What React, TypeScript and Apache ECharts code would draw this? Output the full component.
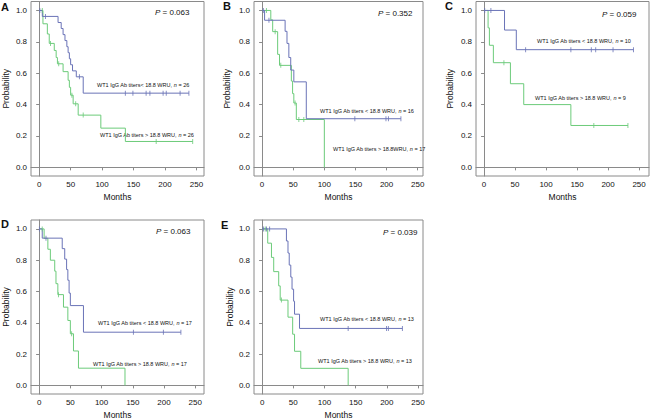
import React, { useEffect, useRef } from "react";
import * as echarts from "echarts";

const xTicks = [0, 50, 100, 150, 200, 250];
const yTicks = [0, 0.2, 0.4, 0.6, 0.8, 1.0];
const panelLetters = ["A", "B", "C", "D", "E"];
const pValues = ["0.063", "0.352", "0.059", "0.063", "0.039"];
const nLow = [26, 16, 10, 17, 13];
const nHigh = [26, 17, 9, 17, 13];

// Panel A
const A_low_steps = [[0, 1], [5, 0.962], [30, 0.923], [35, 0.885], [38, 0.846], [41, 0.808], [44, 0.769], [46, 0.731], [48, 0.692], [50, 0.654], [53, 0.615], [59, 0.577], [70, 0.473]];
const A_low_end = 238;
const A_low_censor = [1, 10, 64, 137, 149, 170, 176, 197, 202, 224, 238];
const A_high_steps = [[0, 1], [6, 0.915], [13, 0.85], [16, 0.79], [24, 0.745], [27, 0.7], [29, 0.66], [38, 0.61], [46, 0.555], [48, 0.51], [50, 0.46], [54, 0.405], [62, 0.333], [98, 0.25], [137, 0.165]];
const A_high_end = 244;
const A_high_censor = [5, 18, 31, 52, 58, 70, 186, 244];

// Panel B
const B_low_steps = [[0, 1], [4, 0.9375], [37, 0.867], [40, 0.79], [43, 0.7], [46, 0.62], [51, 0.545], [71, 0.31]];
const B_low_end = 223;
const B_low_censor = [2, 11, 149, 199, 203, 223];
const B_high_steps = [[0, 1], [14, 0.94], [17, 0.865], [25, 0.72], [28, 0.65], [47, 0.55], [49, 0.47], [51, 0.41], [55, 0.305], [100, 0]];
const B_high_end = 100;
const B_high_censor = [7, 21, 30, 53, 59, 67];

// Panel C
const C_low_steps = [[0, 1], [33, 0.875], [52, 0.75]];
const C_low_end = 241;
const C_low_censor = [1, 11, 67, 140, 173, 180, 208, 241];
const C_high_steps = [[0, 1], [6.5, 0.889], [8.6, 0.778], [15, 0.667], [42.5, 0.533], [64, 0.4], [140, 0.267]];
const C_high_end = 232;
const C_high_censor = [32, 177, 232];

// Panel D
const D_low_steps = [[0, 1], [5, 0.941], [37, 0.874], [41, 0.807], [44, 0.74], [46, 0.672], [48, 0.59], [50, 0.51], [71, 0.34]];
const D_low_end = 227;
const D_low_censor = [0.5, 11, 151, 199, 227];
const D_high_steps = [[0, 1], [8, 0.94], [14, 0.87], [18, 0.8], [25, 0.73], [27, 0.65], [30, 0.58], [39, 0.5], [46, 0.415], [50, 0.33], [55, 0.22], [63, 0.11], [137.5, 0]];
const D_high_end = 137.5;
const D_high_censor = [5, 31, 52];

// Panel E
const E_low_steps = [[0, 1], [39, 0.923], [41.5, 0.846], [43.5, 0.769], [46, 0.692], [48, 0.615], [50.5, 0.538], [52, 0.455], [60, 0.364]];
const E_low_end = 225;
const E_low_censor = [2, 7, 12, 138, 199.5, 202.5, 225];
const E_high_steps = [[0, 1], [9, 0.909], [15, 0.818], [18.6, 0.727], [26.6, 0.636], [29, 0.545], [41.5, 0.436], [49, 0.327], [52, 0.218], [62, 0.109], [138, 0]];
const E_high_end = 138;
const E_high_censor = [5, 31];

const lowGroups = [
  { steps: A_low_steps, end: A_low_end, censor: A_low_censor },
  { steps: B_low_steps, end: B_low_end, censor: B_low_censor },
  { steps: C_low_steps, end: C_low_end, censor: C_low_censor },
  { steps: D_low_steps, end: D_low_end, censor: D_low_censor },
  { steps: E_low_steps, end: E_low_end, censor: E_low_censor },
];
const highGroups = [
  { steps: A_high_steps, end: A_high_end, censor: A_high_censor },
  { steps: B_high_steps, end: B_high_end, censor: B_high_censor },
  { steps: C_high_steps, end: C_high_end, censor: C_high_censor },
  { steps: D_high_steps, end: D_high_end, censor: D_high_censor },
  { steps: E_high_steps, end: E_high_end, censor: E_high_censor },
];

const lowLabels = [
  "WT1 IgG Ab titers< 18.8 WRU, ",
  "WT1 IgG Ab titers < 18.8 WRU, ",
  "WT1 IgG Ab titers < 18.8 WRU, ",
  "WT1 IgG Ab titers < 18.8 WRU, ",
  "WT1 IgG Ab titers < 18.8 WRU, ",
];
const highLabels = [
  "WT1 IgG Ab titers > 18.8 WRU, ",
  "WT1 IgG Ab titers > 18.8WRU, ",
  "WT1 IgG Ab titers > 18.8 WRU, ",
  "WT1 IgG Ab titers > 18.8 WRU, ",
  "WT1 IgG Ab titers > 18.8 WRU, ",
];

// layout (pixels)
const layout = [
  { left: 30, top: 1.5, width: 174, height: 174.5, xMax: 262, nameGapY: 21, letter: [1, 7], p: [155, 12.5], low: [97, 85], high: [100, 135] },
  { left: 254, top: 1.5, width: 169, height: 174.5, xMax: 258.5, nameGapY: 23, letter: [223, 6], p: [378, 13], low: [320, 111], high: [333, 149] },
  { left: 476, top: 1.5, width: 173, height: 174.5, xMax: 266, nameGapY: 22, letter: [445, 6], p: [602, 14], low: [537, 41], high: [535, 98] },
  { left: 30, top: 220, width: 174, height: 177, xMax: 264, nameGapY: 21, letter: [1, 224], p: [156, 231], low: [98, 323], high: [93, 364] },
  { left: 254, top: 220, width: 169, height: 177, xMax: 258, nameGapY: 20, letter: [221, 225], p: [383, 232], low: [320, 319], high: [318, 361] },
];

const BLUE = "#6a73b7";
const GREEN = "#6ccb7a";
const FRAME = "#8a8a8a";
const TEXT = "#111111";
const FONT = "'Liberation Sans', Arial, sans-serif";

function survAt(steps: number[][], t: number) {
  let s = 1;
  for (const [st, sv] of steps) {
    if (st <= t) s = sv;
  }
  return s;
}

function lineData(g: { steps: number[][]; end: number }) {
  const d = g.steps.map((p) => [p[0], p[1]]);
  const last = g.steps[g.steps.length - 1];
  if (g.end > last[0]) d.push([g.end, last[1]]);
  return d;
}

function censorData(g: { steps: number[][]; censor: number[] }) {
  return g.censor.map((t) => [t, survAt(g.steps, t)]);
}

export default function App() {
  const ref = useRef<HTMLDivElement>(null);
  useEffect(() => {
    if (!ref.current) return;
    const chart = echarts.init(ref.current, undefined, { renderer: "svg" });
    const grids: any[] = [];
    const xAxes: any[] = [];
    const yAxes: any[] = [];
    const series: any[] = [];
    const graphics: any[] = [];
    layout.forEach((L, i) => {
      grids.push({
        left: L.left,
        top: L.top,
        width: L.width,
        height: L.height,
        show: true,
        borderColor: FRAME,
        borderWidth: 1,
      });
      xAxes.push({
        type: "value",
        gridIndex: i,
        min: -13,
        max: L.xMax,
        name: "Months",
        nameLocation: "middle",
        nameGap: 16,
        nameTextStyle: { fontSize: 8.5, color: TEXT, fontFamily: FONT },
        axisLine: { show: true, lineStyle: { color: FRAME, width: 1 } },
        axisTick: { show: true, length: 3, customValues: xTicks, lineStyle: { color: FRAME } },
        axisLabel: { customValues: xTicks, fontSize: 8, color: TEXT, fontFamily: FONT, margin: 4 },
        splitLine: { show: false },
      });
      yAxes.push({
        type: "value",
        gridIndex: i,
        min: -0.055,
        max: 1.057,
        name: "Probability",
        nameLocation: "middle",
        nameGap: L.nameGapY,
        nameTextStyle: { fontSize: 8.5, color: TEXT, fontFamily: FONT },
        axisLine: { show: true, lineStyle: { color: FRAME, width: 1 } },
        axisTick: { show: true, length: 3, customValues: yTicks, lineStyle: { color: FRAME } },
        axisLabel: {
          customValues: yTicks,
          fontSize: 8,
          color: TEXT,
          fontFamily: FONT,
          margin: 4,
          formatter: (v: number) => v.toFixed(1),
        },
        splitLine: { show: false },
      });
      const lo = lowGroups[i];
      const hi = highGroups[i];
      series.push({
        type: "line",
        xAxisIndex: i,
        yAxisIndex: i,
        step: "end",
        symbol: "none",
        data: lineData(hi),
        lineStyle: { color: GREEN, width: 1 },
        z: 2,
      });
      series.push({
        type: "line",
        xAxisIndex: i,
        yAxisIndex: i,
        step: "end",
        symbol: "none",
        data: lineData(lo),
        lineStyle: { color: BLUE, width: 1 },
        z: 3,
      });
      series.push({
        type: "scatter",
        xAxisIndex: i,
        yAxisIndex: i,
        symbol: "rect",
        symbolSize: [1, 5],
        itemStyle: { color: GREEN },
        data: censorData(hi),
        z: 4,
      });
      series.push({
        type: "scatter",
        xAxisIndex: i,
        yAxisIndex: i,
        symbol: "rect",
        symbolSize: [1, 5],
        itemStyle: { color: BLUE },
        data: censorData(lo),
        z: 5,
      });
      graphics.push({
        type: "text",
        x: L.letter[0],
        y: L.letter[1],
        style: {
          text: panelLetters[i],
          fontSize: 11,
          fontWeight: "bold",
          fontFamily: FONT,
          fill: "#111",
          textAlign: "left",
          textVerticalAlign: "middle",
        },
      });
      graphics.push({
        type: "text",
        x: L.p[0],
        y: L.p[1],
        style: {
          text: "{i|P} = " + pValues[i],
          fontSize: 8,
          fontFamily: FONT,
          fill: TEXT,
          textAlign: "left",
          textVerticalAlign: "middle",
          rich: { i: { fontStyle: "italic", fontSize: 8, fontFamily: FONT, fill: TEXT } },
        },
      });
      graphics.push({
        type: "text",
        x: L.low[0],
        y: L.low[1],
        style: {
          text: lowLabels[i] + "{i|n} = " + nLow[i],
          fontSize: 5.5,
          fontFamily: FONT,
          fill: TEXT,
          textAlign: "left",
          textVerticalAlign: "middle",
          rich: { i: { fontStyle: "italic", fontSize: 5.5, fontFamily: FONT, fill: TEXT } },
        },
      });
      graphics.push({
        type: "text",
        x: L.high[0],
        y: L.high[1],
        style: {
          text: highLabels[i] + "{i|n} = " + nHigh[i],
          fontSize: 5.5,
          fontFamily: FONT,
          fill: TEXT,
          textAlign: "left",
          textVerticalAlign: "middle",
          rich: { i: { fontStyle: "italic", fontSize: 5.5, fontFamily: FONT, fill: TEXT } },
        },
      });
    });
    chart.setOption({
      animation: false,
      backgroundColor: "#ffffff",
      grid: grids,
      xAxis: xAxes,
      yAxis: yAxes,
      series,
      graphic: graphics,
    });
    return () => chart.dispose();
  }, []);
  return (
    <div
      ref={ref}
      style={{ position: "fixed", left: 0, top: 0, width: 650, height: 420, background: "#fff" }}
    />
  );
}
